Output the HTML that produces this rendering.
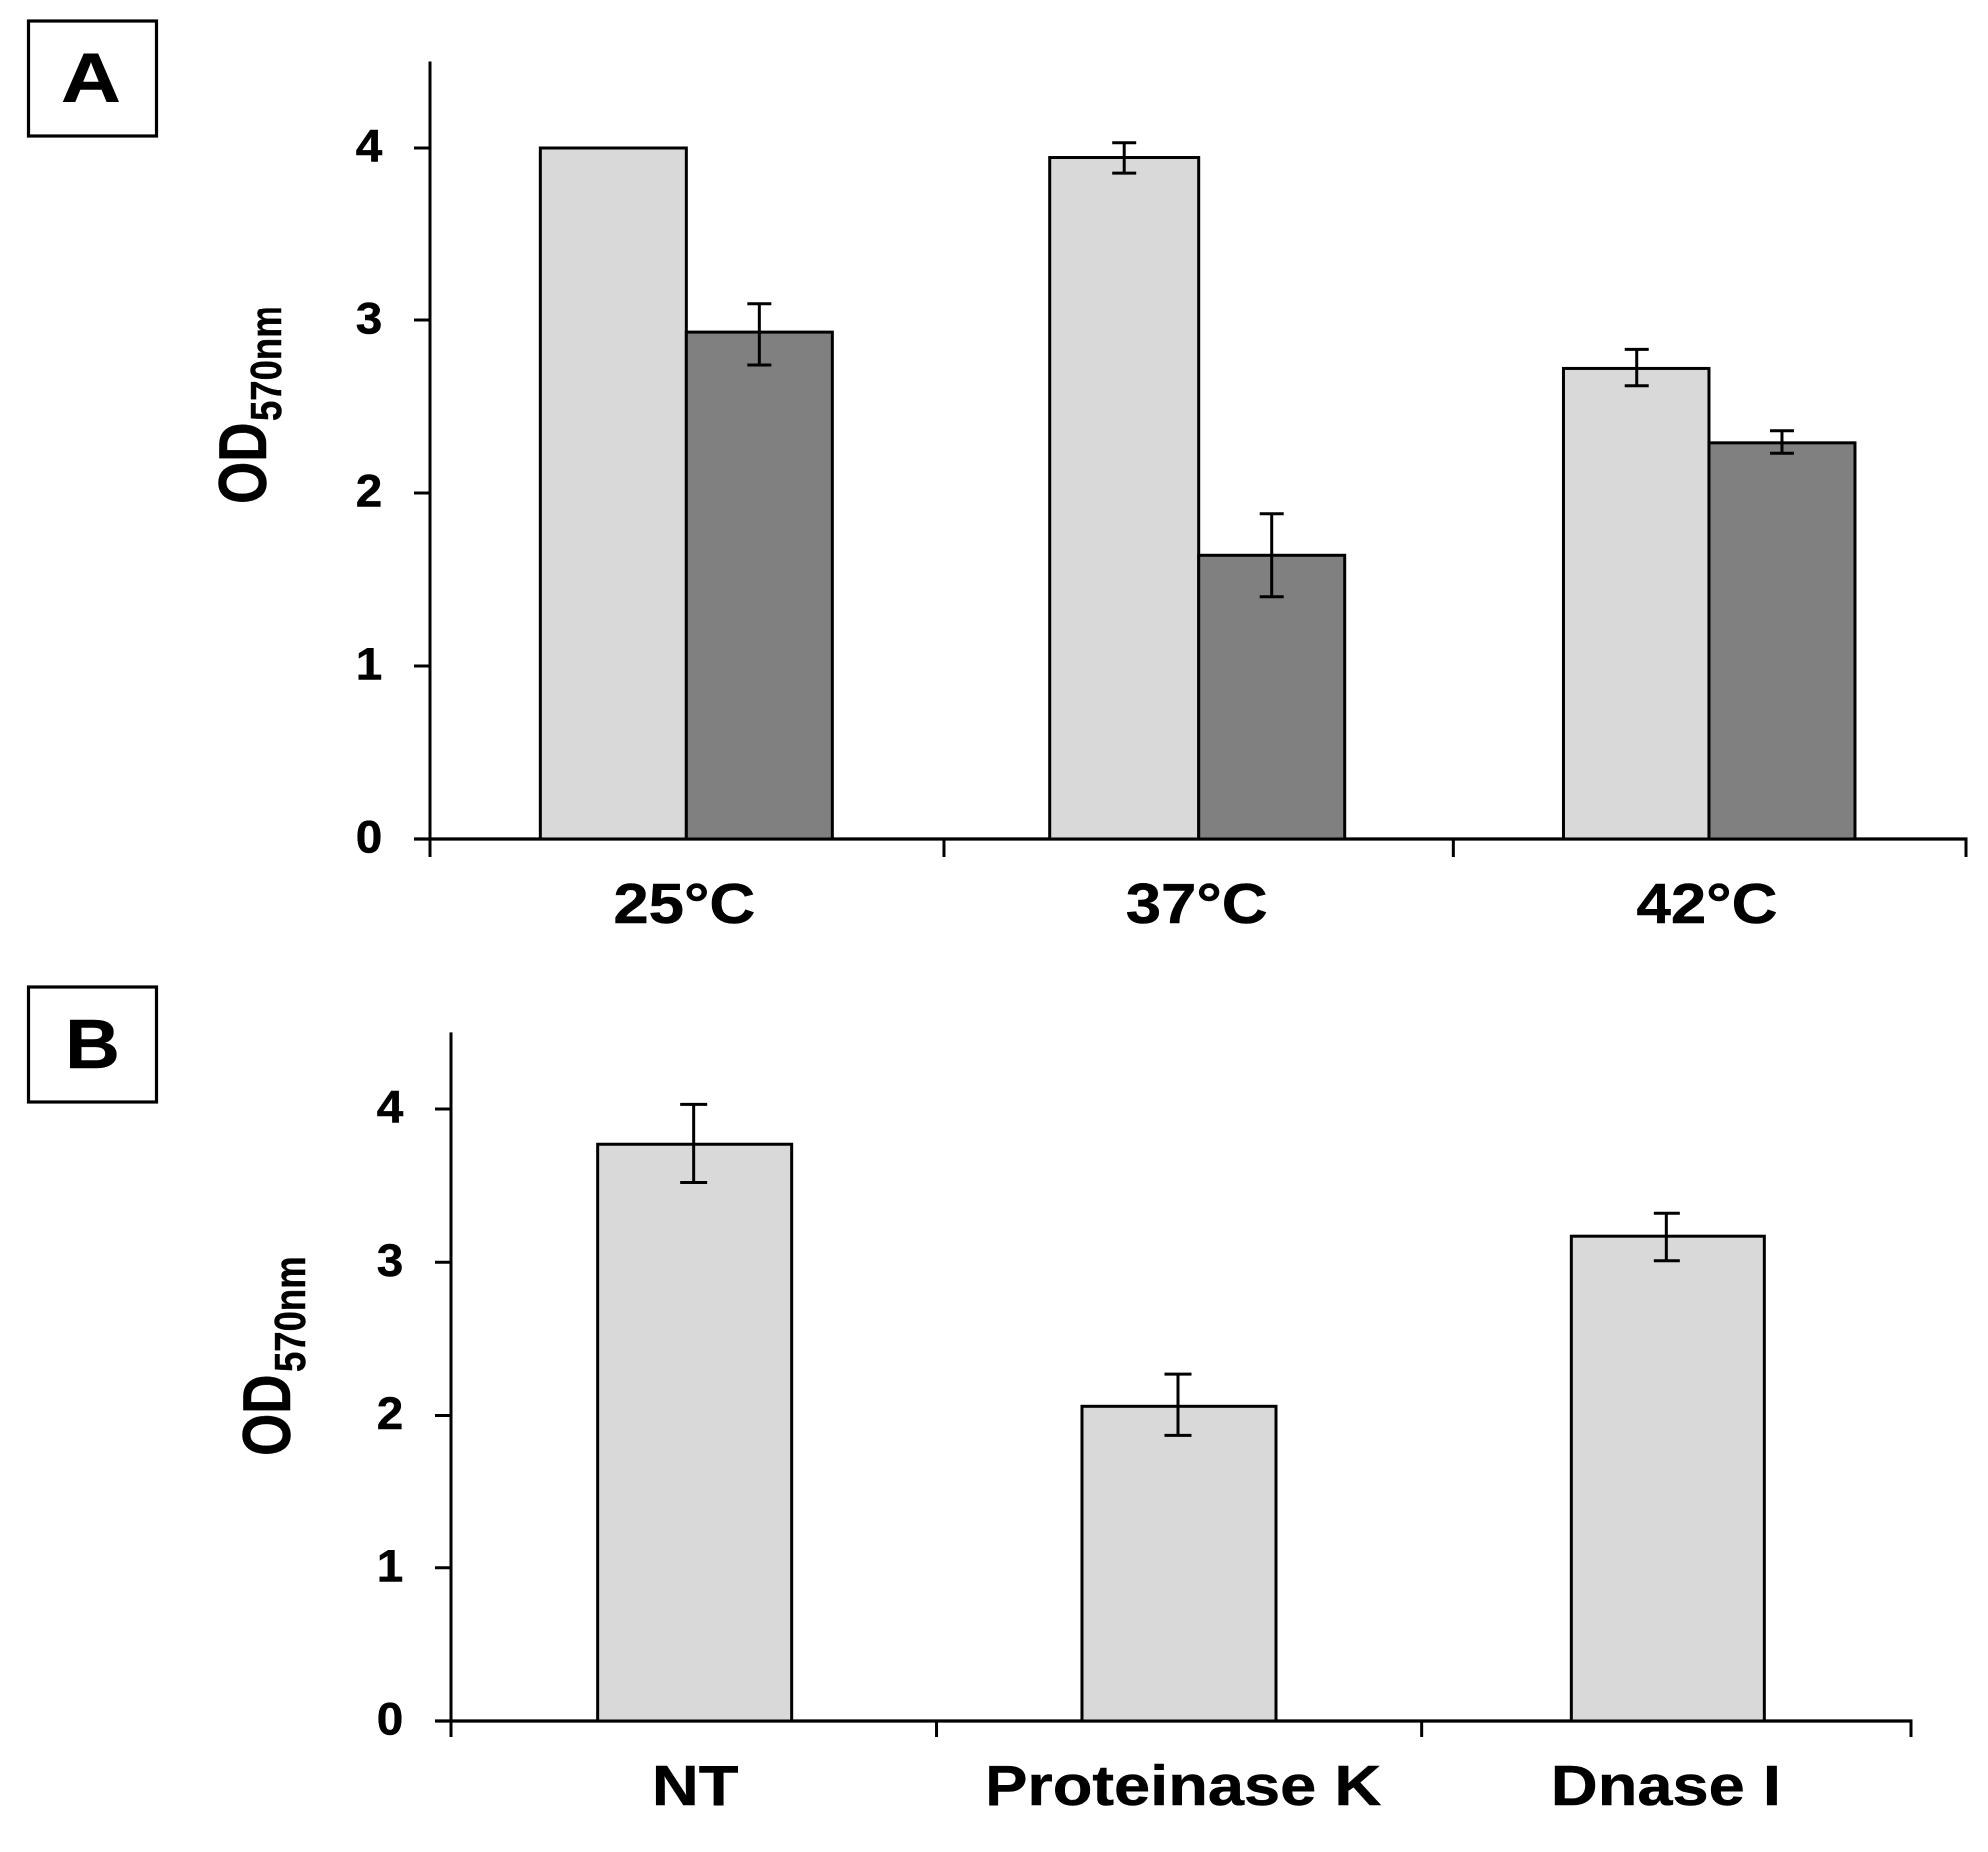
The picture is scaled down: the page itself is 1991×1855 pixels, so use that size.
<!DOCTYPE html>
<html lang="en">
<head>
<meta charset="utf-8">
<title>OD570nm bar charts</title>
<style>
html,body{margin:0;padding:0;background:#fff;}
svg{display:block;}
text{font-family:"Liberation Sans",Arial,sans-serif;font-weight:700;fill:#000;stroke:#000;stroke-width:0.5px;}
</style>
</head>
<body>
<svg id="figure" xmlns="http://www.w3.org/2000/svg" width="1991" height="1855" viewBox="0 0 1991 1855">
  <rect x="0" y="0" width="1991" height="1855" fill="#fff"/>
  <g>
    <rect x="28.5" y="21" width="128" height="115" fill="#fff" stroke="#000" stroke-width="3.2"/>
    <text transform="translate(91,102) scale(1.18,1)" font-size="70" text-anchor="middle">A</text>
  </g>
  <g>
    <rect x="28.5" y="989" width="128" height="115" fill="#fff" stroke="#000" stroke-width="3.2"/>
    <text transform="translate(92.5,1070) scale(1.08,1)" font-size="70" text-anchor="middle">B</text>
  </g>
  <g>
    <text transform="translate(266,505) rotate(-90) scale(0.8,1)" font-size="68">OD</text>
    <text transform="translate(281,422) rotate(-90) scale(0.83,1)" font-size="44">570nm</text>
  </g>
  <g>
    <text transform="translate(290,1458) rotate(-90) scale(0.8,1)" font-size="68">OD</text>
    <text transform="translate(305,1374) rotate(-90) scale(0.83,1)" font-size="44">570nm</text>
  </g>
  <g id="chart-a"></g>
  <g id="chart-b"></g>
</svg>
<script>
// Shared y-axis tick labels
const yTicks = [0, 1, 2, 3, 4];
const yMax = 4.5;

// Panel A: temperature
const tempCategories = ['25°C', '37°C', '42°C'];
const tempLightValues = [4.0, 3.945, 2.72];
const tempLightErrLow = [null, 3.855, 2.62];
const tempLightErrHigh = [null, 4.03, 2.83];
const tempDarkValues = [2.93, 1.64, 2.29];
const tempDarkErrLow = [2.74, 1.40, 2.23];
const tempDarkErrHigh = [3.10, 1.88, 2.36];

// Panel B: enzyme treatment
const treatCategories = ['NT', 'Proteinase K', 'Dnase I'];
const treatValues = [3.77, 2.06, 3.17];
const treatErrLow = [3.52, 1.87, 3.01];
const treatErrHigh = [4.03, 2.27, 3.32];

const NS = 'http://www.w3.org/2000/svg';

function add(parent, tag, attrs) {
  const el = document.createElementNS(NS, tag);
  for (const k in attrs) el.setAttribute(k, attrs[k]);
  parent.appendChild(el);
  return el;
}

function drawAxes(group, layout, categories, y, bandX) {
  const yAxis = add(group, 'line', {x1: layout.x0, x2: layout.x0, y1: y(yMax), y2: y(0) + layout.xTick, stroke: '#000', 'stroke-width': 3});
  
  
  const xAxis = add(group, 'line', {x1: layout.x0 - 16, x2: layout.x1 + 1.5, y1: y(0), y2: y(0), stroke: '#000', 'stroke-width': 3.2});
  
  
  yTicks.forEach(function (t) {
    const tick = add(group, 'line', {x1: layout.x0 - 16, x2: layout.x0, y1: y(t), y2: y(t), stroke: '#000', 'stroke-width': 3});
    
    
    const label = add(group, 'text', {transform: 'translate(' + (layout.x0 - 61) + ',' + (y(t) + 13.5) + ') scale(1.06,1)', 'font-size': 45, 'text-anchor': 'middle'});
    label.textContent = String(t);
    
    
  });
  for (let i = 1; i <= categories.length; i++) {
    const tx = layout.x0 + i * layout.band + layout.tickNudge[i - 1];
    const tick = add(group, 'line', {x1: tx, x2: tx, y1: y(0), y2: y(0) + layout.xTick, stroke: '#000', 'stroke-width': 3});
    
    
  }
  categories.forEach(function (c, i) {
    const label = add(group, 'text', {transform: 'translate(' + (bandX(i) + layout.labelNudge[i]) + ',' + layout.labelY + ') scale(' + layout.labelScale + ',1)', 'font-size': 57, 'text-anchor': 'middle'});
    label.textContent = c;
    
    
  });
}

function drawBar(group, x, w, value, y, fill) {
  const bar = add(group, 'rect', {x: x, y: y(value), width: w, height: y(0) - y(value), fill: fill, stroke: '#000', 'stroke-width': 3});
  
  
}

function drawErr(group, cx, lo, hi, y, cap) {
  if (lo === null || hi === null) return;
  const stem = add(group, 'line', {x1: cx, x2: cx, y1: y(hi), y2: y(lo), stroke: '#000', 'stroke-width': 3});
  
  
  const capTop = add(group, 'line', {x1: cx - cap / 2, x2: cx + cap / 2, y1: y(hi), y2: y(hi), stroke: '#000', 'stroke-width': 3});
  
  
  const capBottom = add(group, 'line', {x1: cx - cap / 2, x2: cx + cap / 2, y1: y(lo), y2: y(lo), stroke: '#000', 'stroke-width': 3});
  
  
}

// Panel A
(function () {
  const group = document.getElementById('chart-a');
  const layout = {x0: 431, x1: 1969, band: 512.67, xTick: 18, labelY: 924, labelScale: 1.115,
    tickNudge: [1.3, -1, 0], centerNudge: [0, 0.7, -0.7], labelNudge: [-2, -2, -2.5],
    lightWidth: [146, 149, 146.5], darkWidth: [146, 146, 146]};
  const y = function (v) { return 840 - v * 173; };
  const bandX = function (i) { return layout.x0 + (i + 0.5) * layout.band + layout.centerNudge[i]; };
  drawAxes(group, layout, tempCategories, y, bandX);
  tempCategories.forEach(function (c, i) {
    const cx = bandX(i);
    drawBar(group, cx - layout.lightWidth[i], layout.lightWidth[i], tempLightValues[i], y, '#d9d9d9');
    drawBar(group, cx, layout.darkWidth[i], tempDarkValues[i], y, '#808080');
  });
  tempCategories.forEach(function (c, i) {
    const cx = bandX(i);
    drawErr(group, cx - layout.lightWidth[i] / 2, tempLightErrLow[i], tempLightErrHigh[i], y, 24);
    drawErr(group, cx + layout.darkWidth[i] / 2, tempDarkErrLow[i], tempDarkErrHigh[i], y, 24);
  });
})();

// Panel B
(function () {
  const group = document.getElementById('chart-b');
  const layout = {x0: 452, x1: 1914, band: 487.33, xTick: 16, labelY: 1808, labelScale: 1.14,
    tickNudge: [-1.8, -3, 0], centerNudge: [0, -2, 0], labelNudge: [0.5, 3.7, -2]};
  const y = function (v) { return 1724 - v * 153.25; };
  const bandX = function (i) { return layout.x0 + (i + 0.5) * layout.band + layout.centerNudge[i]; };
  const w = 194;
  drawAxes(group, layout, treatCategories, y, bandX);
  treatCategories.forEach(function (c, i) {
    const cx = bandX(i);
    drawBar(group, cx - w / 2, w, treatValues[i], y, '#d9d9d9');
  });
  treatCategories.forEach(function (c, i) {
    const cx = bandX(i) - 1;
    drawErr(group, cx, treatErrLow[i], treatErrHigh[i], y, 27);
  });
})();
</script>
</body>
</html>
